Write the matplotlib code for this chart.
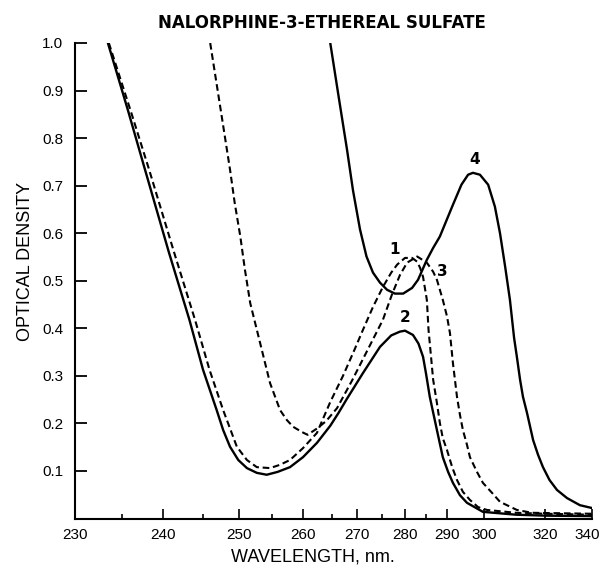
import numpy as np
import matplotlib
matplotlib.use("Agg")
import matplotlib.pyplot as plt
from matplotlib.ticker import FixedLocator, NullFormatter
from matplotlib.transforms import ScaledTranslation

# -------------------------------
# Data (wavelength in nm, optical density)
# -------------------------------
wl_1 = [233.6, 236.1, 238.3, 241.4, 244.0, 245.9, 247.8, 249.7, 251.2, 252.7,
        254.7, 256.3, 257.9, 260.0, 262.4, 264.7, 267.2, 269.5, 271.2, 273.2,
        275.2, 277.0, 278.3, 280.0, 281.7, 282.9, 283.6, 284.3, 285.2, 285.6,
        286.2, 286.7, 287.6, 288.3, 289.0, 290.0, 291.4, 292.7, 294.3, 296.2,
        298.4, 300.9, 310.0, 320.0, 340.0]
od_1 = [1.00, 0.855, 0.734, 0.559, 0.418, 0.313, 0.228, 0.151, 0.123, 0.108,
        0.106, 0.113, 0.123, 0.148, 0.18, 0.245, 0.30, 0.355, 0.397, 0.445,
        0.487, 0.517, 0.534, 0.548, 0.548, 0.54, 0.527, 0.508, 0.46, 0.397,
        0.34, 0.292, 0.243, 0.201, 0.169, 0.144, 0.108, 0.081, 0.056, 0.039,
        0.024, 0.018, 0.012, 0.010, 0.008]

wl_2 = [233.5, 235.7, 237.8, 240.75, 243.3, 245.0, 246.9, 247.8, 248.75, 249.9,
        251.2, 252.7, 254.2, 255.9, 257.9, 260.0, 262.4, 264.7, 266.3, 268.0,
        271.2, 274.6, 277.0, 278.9, 280.0, 281.9, 283.2, 284.3, 285.0, 285.9,
        287.6, 289.0, 290.3, 291.6, 293.5, 295.4, 299.7, 310.0, 320.0, 340.0]
od_2 = [1.00, 0.86, 0.734, 0.559, 0.418, 0.313, 0.228, 0.186, 0.151, 0.123,
        0.106, 0.096, 0.092, 0.098, 0.108, 0.129, 0.159, 0.195, 0.222, 0.252,
        0.306, 0.361, 0.385, 0.393, 0.395, 0.386, 0.368, 0.34, 0.305, 0.256,
        0.186, 0.129, 0.098, 0.075, 0.049, 0.033, 0.014, 0.008, 0.006, 0.005]

wl_3 = [246.0, 247.4, 248.75, 249.4, 250.2, 250.9, 251.7, 253.2, 254.7, 256.3,
        257.4, 258.4, 259.8, 260.8, 262.5, 264.0, 266.0, 269.0, 272.0, 275.2,
        277.2, 278.9, 280.5, 282.9, 285.2, 286.7, 287.6, 288.3, 289.0, 290.0,
        290.8, 291.6, 292.7, 293.5, 294.3, 295.4, 296.2, 298.1, 299.7, 302.5,
        305.0, 310.3, 315.5, 340.0]
od_3 = [1.00, 0.865, 0.734, 0.664, 0.593, 0.523, 0.453, 0.369, 0.285, 0.228,
        0.207, 0.193, 0.182, 0.176, 0.19, 0.205, 0.232, 0.29, 0.352, 0.418,
        0.472, 0.512, 0.538, 0.551, 0.538, 0.519, 0.502, 0.481, 0.46, 0.425,
        0.39, 0.327, 0.256, 0.218, 0.186, 0.155, 0.129, 0.098, 0.075, 0.054,
        0.035, 0.018, 0.012, 0.010]

wl_4 = [264.7, 266.3, 268.0, 269.2, 270.6, 271.9, 273.2, 274.6, 276.1, 277.8,
        279.6, 281.7, 283.1, 285.2, 286.7, 288.3, 291.4, 293.9, 295.7, 297.0,
        298.9, 301.3, 303.4, 305.0, 306.6, 308.1, 309.4, 310.3, 311.4, 312.4,
        313.8, 315.9, 317.6, 319.3, 321.8, 324.8, 328.8, 334.5, 340.0]
od_4 = [1.00, 0.889, 0.776, 0.69, 0.608, 0.551, 0.517, 0.496, 0.481, 0.473,
        0.473, 0.485, 0.502, 0.544, 0.569, 0.593, 0.656, 0.702, 0.723, 0.727,
        0.723, 0.702, 0.656, 0.60, 0.53, 0.46, 0.38, 0.34, 0.292, 0.256,
        0.222, 0.165, 0.134, 0.108, 0.081, 0.06, 0.043, 0.028, 0.022]

curve_labels = ["1", "2", "3", "4"]
label_wl = [277.8, 280.0, 289.0, 297.6]
label_od = [0.565, 0.422, 0.519, 0.755]

x_major = [230, 240, 250, 260, 270, 280, 290, 300, 320, 340]
x_minor = [235, 245, 255, 265, 275, 285]
y_major = [0.1, 0.2, 0.3, 0.4, 0.5, 0.6, 0.7, 0.8, 0.9, 1.0]

# -------------------------------
# Non-linear (prism) wavelength scale of the recorder chart
# -------------------------------
SCALE_NM = [230, 235, 240, 245, 250, 255, 260, 265, 270, 275, 280, 285, 290,
            300, 310, 320, 330, 340]
SCALE_POS = [75, 122, 163, 203, 239, 272, 303, 332, 357, 382, 405, 426, 447,
             484, 516, 545, 570, 592]


def fwd(x):
    return np.interp(x, SCALE_NM, SCALE_POS)


def inv(p):
    return np.interp(p, SCALE_POS, SCALE_NM)


plt.rcParams["font.family"] = ["Liberation Sans", "DejaVu Sans"]

fig = plt.figure(figsize=(6.03, 5.67), dpi=100)
ax = fig.add_axes([75 / 603, 48.5 / 567, 517 / 603, 475.5 / 567])
ax.set_xscale("function", functions=(fwd, inv))

dash = (0, (3.2, 1.8))
ax.plot(wl_2, od_2, color="black", lw=1.7, solid_joinstyle="round")
ax.plot(wl_4, od_4, color="black", lw=1.7, solid_joinstyle="round")
ax.plot(wl_1, od_1, color="black", lw=1.5, linestyle=dash)
ax.plot(wl_3, od_3, color="black", lw=1.5, linestyle=dash)

for lab, lx, ly in zip(curve_labels, label_wl, label_od):
    ax.text(lx, ly, lab, ha="center", va="center", fontsize=11,
            fontweight="bold", family="DejaVu Sans")

ax.set_xlim(230, 340)
ax.set_ylim(0, 1.0)

ax.xaxis.set_major_locator(FixedLocator(x_major))
ax.xaxis.set_minor_locator(FixedLocator(x_minor))
ax.xaxis.set_minor_formatter(NullFormatter())
ax.set_xticklabels([str(v) for v in x_major])
ax.yaxis.set_major_locator(FixedLocator(y_major))
ax.set_yticklabels([f"{v:.1f}" for v in y_major])

ax.tick_params(axis="x", which="major", direction="in", length=7, width=1.2,
               pad=7, labelsize=11)
ax.tick_params(axis="x", which="minor", direction="in", length=3.5, width=1.2)
ax.tick_params(axis="y", which="major", direction="in", length=8.5, width=1.3,
               pad=8.5, labelsize=11)

# last label sits against the right edge of the chart
last = ax.get_xticklabels()[-1]
last.set_transform(last.get_transform() + ScaledTranslation(-5 / 100, 0, fig.dpi_scale_trans))

for side in ["top", "right"]:
    ax.spines[side].set_visible(False)
for side in ["left", "bottom"]:
    ax.spines[side].set_linewidth(1.5)

ax.set_xlabel("WAVELENGTH, nm.", fontsize=13)
ax.xaxis.set_label_coords(0.46, -0.064)
ax.set_ylabel("OPTICAL DENSITY", fontsize=13)
ax.yaxis.set_label_coords(-0.08, 0.54)

fig.text(0.534, 0.959, "NALORPHINE-3-ETHEREAL SULFATE", ha="center",
         va="center", fontsize=12, fontweight="bold", family="DejaVu Sans")

fig.savefig("out.png", dpi=100)
